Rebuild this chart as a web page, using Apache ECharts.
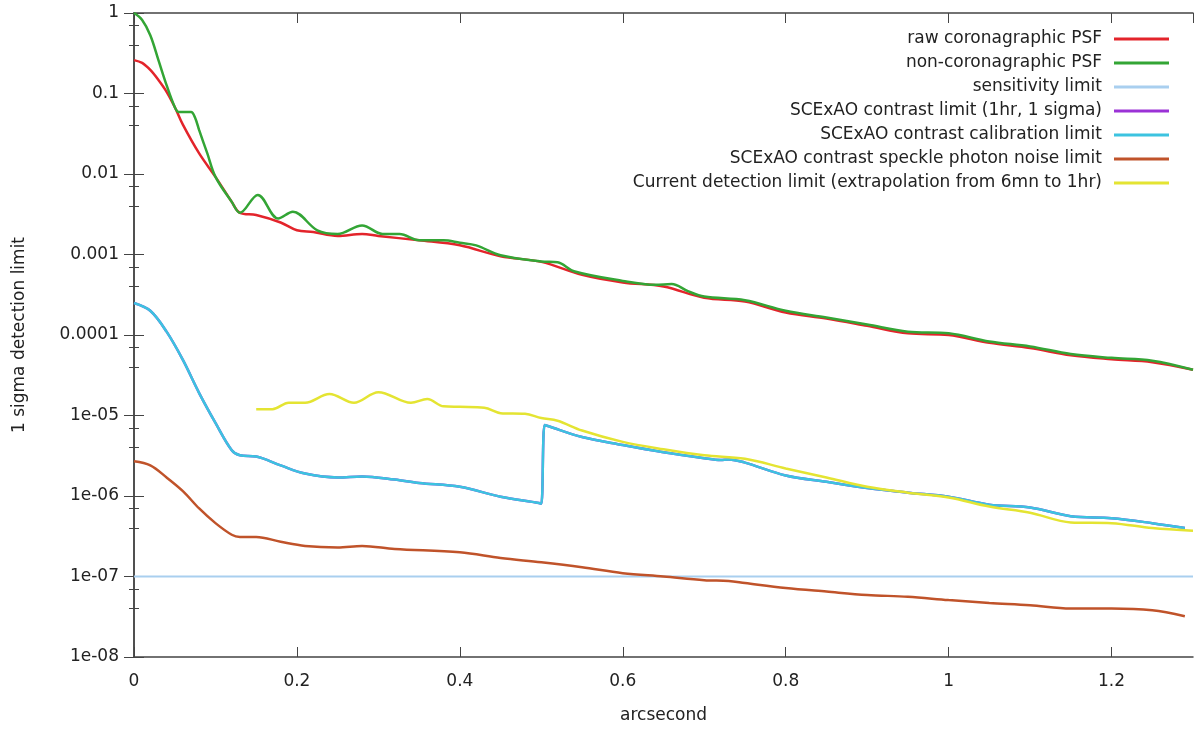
<!DOCTYPE html>
<html>
<head>
<meta charset="utf-8">
<script src="https://cdn.jsdelivr.net/npm/echarts@6/dist/echarts.min.js"></script>
<style>
  html, body { margin: 0; padding: 0; background: #fff; }
  #chart { width: 1196px; height: 730px; }
</style>
</head>
<body>
<div id="chart"></div>
<script>
// values (x in arcsec, y = 1 sigma detection limit)
const rawX = [0, 0.01, 0.02, 0.03, 0.04, 0.05, 0.06, 0.08, 0.10, 0.12, 0.13, 0.15, 0.18, 0.2, 0.22, 0.25, 0.28, 0.3, 0.35, 0.4, 0.45, 0.5, 0.55, 0.6, 0.65, 0.7, 0.75, 0.8, 0.85, 0.9, 0.95, 1.0, 1.05, 1.1, 1.15, 1.2, 1.25, 1.3];
const rawY = [0.26, 0.24, 0.196, 0.147, 0.105, 0.068, 0.041, 0.018, 0.0092, 0.0045, 0.0033, 0.0031, 0.0025, 0.002, 0.0019, 0.0017, 0.0018, 0.0017, 0.0015, 0.0013, 0.00095, 0.00081, 0.00056, 0.00045, 0.0004, 0.00029, 0.00026, 0.00019, 0.00016, 0.00013, 0.000105, 0.0001, 0.00008, 0.000069, 0.000056, 0.00005, 0.000046, 0.000037];

const nonX = [0, 0.01, 0.02, 0.03, 0.04, 0.05, 0.055, 0.07, 0.075, 0.08, 0.09, 0.1, 0.12, 0.13, 0.152, 0.177, 0.195, 0.225, 0.25, 0.28, 0.305, 0.326, 0.35, 0.38, 0.4, 0.42, 0.45, 0.5, 0.52, 0.54, 0.6, 0.64, 0.66, 0.68, 0.7, 0.75, 0.8, 0.85, 0.9, 0.95, 1.0, 1.05, 1.1, 1.15, 1.2, 1.25, 1.3];
const nonY = [1.0, 0.82, 0.53, 0.26, 0.127, 0.068, 0.059, 0.059, 0.05, 0.035, 0.018, 0.0092, 0.0045, 0.0033, 0.0055, 0.0028, 0.0034, 0.002, 0.0018, 0.0023, 0.0018, 0.0018, 0.0015, 0.0015, 0.0014, 0.0013, 0.00098, 0.00082, 0.0008, 0.00062, 0.00047, 0.00042, 0.00043, 0.00035, 0.0003, 0.00027, 0.0002, 0.000165, 0.000135, 0.00011, 0.000105, 0.000083, 0.000072, 0.000058, 0.000052, 0.000048, 0.000037];

const sensX = [0, 1.3];
const sensY = [1e-7, 1e-7];

const calX = [0, 0.02, 0.04, 0.06, 0.08, 0.10, 0.12, 0.13, 0.15, 0.18, 0.21, 0.25, 0.28, 0.32, 0.35, 0.4, 0.45, 0.497, 0.5, 0.504, 0.508, 0.55, 0.6, 0.65, 0.7, 0.72, 0.73, 0.75, 0.8, 0.85, 0.9, 0.95, 1.0, 1.05, 1.1, 1.15, 1.2, 1.25, 1.29];
const calY = [2.5e-4, 2.0e-4, 1.1e-4, 4.9e-5, 1.9e-5, 8.1e-6, 3.7e-6, 3.2e-6, 3.1e-6, 2.4e-6, 1.9e-6, 1.7e-6, 1.75e-6, 1.6e-6, 1.45e-6, 1.3e-6, 9.8e-7, 8.2e-7, 8.0e-7, 7.6e-6, 7.4e-6, 5.4e-6, 4.3e-6, 3.5e-6, 2.95e-6, 2.8e-6, 2.85e-6, 2.6e-6, 1.8e-6, 1.5e-6, 1.26e-6, 1.1e-6, 9.8e-7, 7.8e-7, 7.2e-7, 5.6e-7, 5.3e-7, 4.6e-7, 4.0e-7];

const speckX = [0, 0.02, 0.04, 0.06, 0.08, 0.1, 0.12, 0.13, 0.15, 0.18, 0.21, 0.25, 0.28, 0.32, 0.4, 0.45, 0.5, 0.55, 0.6, 0.65, 0.7, 0.73, 0.75, 0.8, 0.85, 0.9, 0.95, 1.0, 1.05, 1.1, 1.15, 1.2, 1.25, 1.29];
const speckY = [2.7e-6, 2.4e-6, 1.7e-6, 1.15e-6, 7.0e-7, 4.6e-7, 3.3e-7, 3.1e-7, 3.1e-7, 2.7e-7, 2.4e-7, 2.3e-7, 2.4e-7, 2.2e-7, 2.0e-7, 1.7e-7, 1.5e-7, 1.3e-7, 1.1e-7, 1.0e-7, 9.0e-8, 8.8e-8, 8.3e-8, 7.2e-8, 6.5e-8, 5.9e-8, 5.6e-8, 5.1e-8, 4.7e-8, 4.4e-8, 4.0e-8, 4.0e-8, 3.8e-8, 3.2e-8];

const curX = [0.15, 0.17, 0.19, 0.21, 0.24, 0.27, 0.30, 0.34, 0.36, 0.38, 0.40, 0.43, 0.45, 0.48, 0.5, 0.52, 0.55, 0.6, 0.65, 0.7, 0.75, 0.8, 0.85, 0.9, 0.95, 1.0, 1.05, 1.1, 1.15, 1.2, 1.25, 1.3];
const curY = [1.2e-5, 1.2e-5, 1.44e-5, 1.44e-5, 1.85e-5, 1.44e-5, 1.95e-5, 1.44e-5, 1.6e-5, 1.3e-5, 1.28e-5, 1.25e-5, 1.07e-5, 1.05e-5, 9.3e-6, 8.6e-6, 6.5e-6, 4.7e-6, 3.8e-6, 3.2e-6, 2.9e-6, 2.2e-6, 1.7e-6, 1.3e-6, 1.1e-6, 9.6e-7, 7.4e-7, 6.2e-7, 4.7e-7, 4.6e-7, 4.0e-7, 3.7e-7];

const names = [
  'raw coronagraphic PSF',
  'non-coronagraphic PSF',
  'sensitivity limit',
  'SCExAO contrast limit (1hr, 1 sigma)',
  'SCExAO contrast calibration limit',
  'SCExAO contrast speckle photon noise limit',
  'Current detection limit (extrapolation from 6mn to 1hr)'
];

const zip = (xs, ys) => xs.map((x, i) => [x, ys[i]]);
const FONT = 'DejaVu Sans';
const AXIS_COL = '#444';

const chart = echarts.init(document.getElementById('chart'));

function line(name, color, data, width, smooth) {
  return {
    name: name,
    type: 'line',
    data: data,
    symbol: 'none',
    smooth: smooth === undefined ? 0.35 : smooth,
    color: color,
    lineStyle: { color: color, width: width || 2.5 },
    animation: false
  };
}

function yLabel(v) {
  const e = Math.round(Math.log10(v));
  if (e >= -4) return ['1', '0.1', '0.01', '0.001', '0.0001'][-e];
  return '1e-0' + (-e);
}

const option = {
  backgroundColor: '#fff',
  animation: false,
  textStyle: { fontFamily: FONT },
  grid: { left: 134, right: 3, top: 13, bottom: 73, containLabel: false },
  legend: {
    orient: 'vertical',
    right: 22,
    top: 24,
    align: 'right',
    icon: 'rect',
    itemWidth: 55,
    itemHeight: 3,
    itemGap: 4,
    textStyle: { fontFamily: FONT, fontSize: 17, color: '#222', lineHeight: 20, padding: [0, 7, 0, 0] },
    data: names
  },
  xAxis: [
    {
      type: 'value', min: 0, max: 1.3, interval: 0.2,
      name: 'arcsecond', nameLocation: 'middle', nameGap: 50,
      nameTextStyle: { fontFamily: FONT, fontSize: 17, color: '#222' },
      axisLine: { lineStyle: { color: AXIS_COL, width: 1.5 } },
      axisTick: { inside: true, length: 10, lineStyle: { color: AXIS_COL } },
      axisLabel: { fontFamily: FONT, fontSize: 17, color: '#222', margin: 16, showMaxLabel: false },
      splitLine: { show: false }
    },
    {
      type: 'value', min: 0, max: 1.3, interval: 0.2, position: 'top',
      axisLine: { lineStyle: { color: AXIS_COL, width: 1.5 } },
      axisTick: { inside: true, length: 10, lineStyle: { color: AXIS_COL } },
      axisLabel: { show: false },
      splitLine: { show: false }
    }
  ],
  yAxis: [
    {
      type: 'log', logBase: 10, min: 1e-8, max: 1, interval: 1,
      name: '1 sigma detection limit', nameLocation: 'middle', nameGap: 106, nameRotate: 90,
      nameTextStyle: { fontFamily: FONT, fontSize: 17, color: '#222' },
      axisLine: { show: true, lineStyle: { color: AXIS_COL, width: 1.5 } },
      axisTick: { show: true, inside: true, length: 10, lineStyle: { color: AXIS_COL } },
      minorTick: { show: true, splitNumber: 3, length: 5, lineStyle: { color: AXIS_COL } },
      axisLabel: { fontFamily: FONT, fontSize: 17, color: '#222', margin: 15, formatter: yLabel },
      splitLine: { show: false }
    },
    {
      type: 'log', logBase: 10, min: 1e-8, max: 1, interval: 1, position: 'right',
      axisLine: { show: true, lineStyle: { color: AXIS_COL, width: 1.5 } },
      axisTick: { show: true, inside: true, length: 10, lineStyle: { color: AXIS_COL } },
      minorTick: { show: true, splitNumber: 3, length: 5, lineStyle: { color: AXIS_COL } },
      axisLabel: { show: false },
      splitLine: { show: false }
    }
  ],
  series: [
    line(names[0], '#e3242b', zip(rawX, rawY)),
    line(names[1], '#33a535', zip(nonX, nonY)),
    line(names[2], '#a9cfef', zip(sensX, sensY), 2, false),
    line(names[3], '#9b32d6', zip(calX, calY)),
    line(names[4], '#3cc3e0', zip(calX, calY)),
    line(names[5], '#c0532a', zip(speckX, speckY)),
    line(names[6], '#e4e432', zip(curX, curY))
  ]
};

chart.setOption(option);
</script>
</body>
</html>
